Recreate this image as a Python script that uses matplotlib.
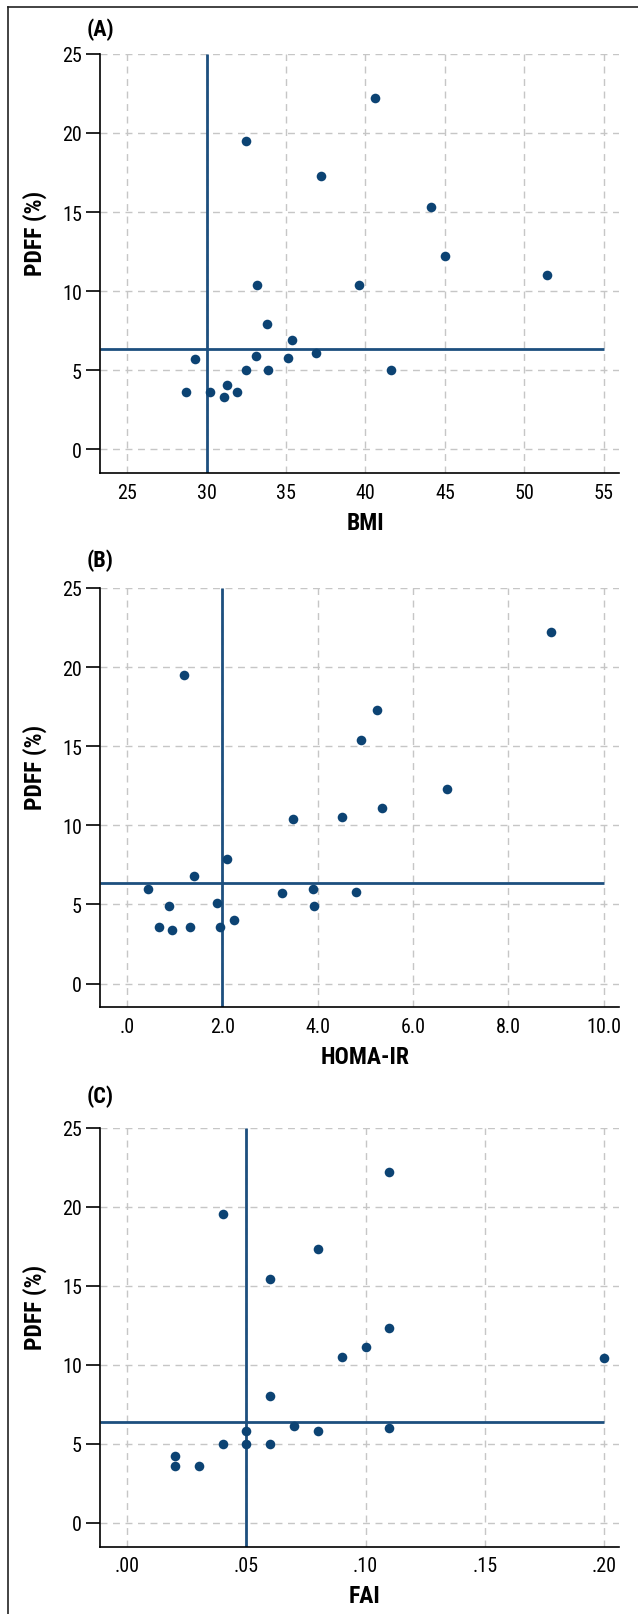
import numpy as np
import matplotlib
matplotlib.use("Agg")
import matplotlib.pyplot as plt
from matplotlib import font_manager

names = set(f.name for f in font_manager.fontManager.ttflist)
fam = "Liberation Sans"
for cand in ["Liberation Sans Narrow", "Roboto Condensed", "Open Sans Condensed",
             "DejaVu Sans Condensed"]:
    if cand in names:
        fam = cand
        break
plt.rcParams["font.family"] = [fam, "DejaVu Sans"]

# panel A: BMI vs PDFF
bmi = [40.6, 32.5, 37.2, 44.1, 45.0, 51.4, 33.2, 39.6, 33.8, 35.4, 36.9,
       33.1, 35.1, 29.3, 32.5, 33.9, 41.6, 31.3, 28.7, 30.2, 31.9, 31.1]
pdff_a = [22.2, 19.5, 17.3, 15.3, 12.2, 11.0, 10.4, 10.4, 7.9, 6.9, 6.1,
          5.9, 5.8, 5.7, 5.0, 5.0, 5.0, 4.1, 3.6, 3.6, 3.6, 3.3]

# panel B: HOMA-IR vs PDFF
homa = [8.9, 1.2, 5.24, 4.91, 6.72, 5.34, 3.48, 4.5, 2.1, 1.4, 0.43,
        3.89, 3.24, 4.81, 1.89, 0.87, 3.93, 2.24, 0.67, 1.31, 1.94, 0.95]
pdff_b = [22.2, 19.5, 17.3, 15.4, 12.3, 11.1, 10.4, 10.5, 7.9, 6.8, 6.0,
          6.0, 5.7, 5.8, 5.1, 4.9, 4.9, 4.0, 3.6, 3.6, 3.6, 3.4]

# panel C: FAI vs PDFF
fai = [0.11, 0.04, 0.08, 0.06, 0.11, 0.10, 0.09, 0.20, 0.06, 0.07,
       0.08, 0.05, 0.11, 0.04, 0.05, 0.06, 0.02, 0.02, 0.03]
pdff_c = [22.2, 19.5, 17.3, 15.4, 12.3, 11.1, 10.5, 10.4, 8.0, 6.1,
          5.8, 5.8, 6.0, 5.0, 5.0, 5.0, 4.2, 3.6, 3.6]

pdff_cut = 6.37
yticks = [0, 5, 10, 15, 20, 25]

panels = [
    dict(x=bmi, y=pdff_a, cut=30, xlim=(23.3, 55.95), xmax=55,
         xticks=[25, 30, 35, 40, 45, 50, 55],
         xlabels=["25", "30", "35", "40", "45", "50", "55"],
         xlabel="BMI", tag="(A)", box=(54.8, 474.2), tag_y=29.3),
    dict(x=homa, y=pdff_b, cut=2.0, xlim=(-0.57, 10.32), xmax=10,
         xticks=[0, 2, 4, 6, 8, 10],
         xlabels=[".0", "2.0", "4.0", "6.0", "8.0", "10.0"],
         xlabel="HOMA-IR", tag="(B)", box=(588.9, 1008.3), tag_y=560.7),
    dict(x=fai, y=pdff_c, cut=0.05, xlim=(-0.0114, 0.2063), xmax=0.20,
         xticks=[0, 0.05, 0.10, 0.15, 0.20],
         xlabels=[".00", ".05", ".10", ".15", ".20"],
         xlabel="FAI", tag="(C)", box=(1128.5, 1547.6), tag_y=1097.0),
]

W, H = 638, 1615
fig = plt.figure(figsize=(W / 100, H / 100), dpi=100)

navy = "#0c4373"
line_c = "#1d4f7e"


def fy(py):
    return 1 - py / H


for p in panels:
    top, bot = p["box"]
    hgt = bot - top
    ax = fig.add_axes([100 / W, fy(bot), 519 / W, hgt / H])
    ax.set_xlim(*p["xlim"])
    ax.set_ylim(-1.5, 25)
    ax.grid(True, color="#c6c6c6", linestyle=(0, (5, 4)), linewidth=1.0)
    ax.set_axisbelow(True)
    ax.hlines(pdff_cut, p["xlim"][0], p["xmax"], color=line_c, lw=2.0, zorder=2)
    ax.vlines(p["cut"], -1.5, 25, color=line_c, lw=2.0, zorder=2)
    ax.scatter(p["x"], p["y"], s=48, color=navy, zorder=3, linewidths=0)
    ax.set_xticks(p["xticks"])
    ax.set_xticklabels(p["xlabels"])
    ax.set_yticks(yticks)
    ax.tick_params(axis="x", length=0, pad=7, labelsize=14.5)
    ax.tick_params(axis="y", length=10, width=1.2, pad=3, labelsize=14.5)
    for s in ["top", "right"]:
        ax.spines[s].set_visible(False)
    ax.spines["left"].set_linewidth(1.2)
    ax.spines["bottom"].set_linewidth(1.2)
    ax.spines["left"].set_bounds(-1.5, 25)

    # axis titles and panel tag, placed in figure pixels
    fig.text(365 / W, fy(bot + 49), p["xlabel"], fontsize=17, fontweight="bold",
             ha="center", va="center")
    fig.text(35 / W, fy(top + 179), "PDFF (%)", fontsize=17, fontweight="bold",
             ha="center", va="center", rotation=90, rotation_mode="anchor")
    fig.text(87 / W, fy(p["tag_y"]), p["tag"], fontsize=16, fontweight="bold",
             ha="left", va="center")

# outer frame, cut off at the right and bottom
fig.add_artist(plt.Line2D([8 / W, 8 / W], [0, fy(7.5)], color="#222222", lw=1.2))
fig.add_artist(plt.Line2D([8 / W, 1], [fy(7.5), fy(7.5)], color="#222222", lw=1.2))

fig.savefig("out.png", dpi=100)
